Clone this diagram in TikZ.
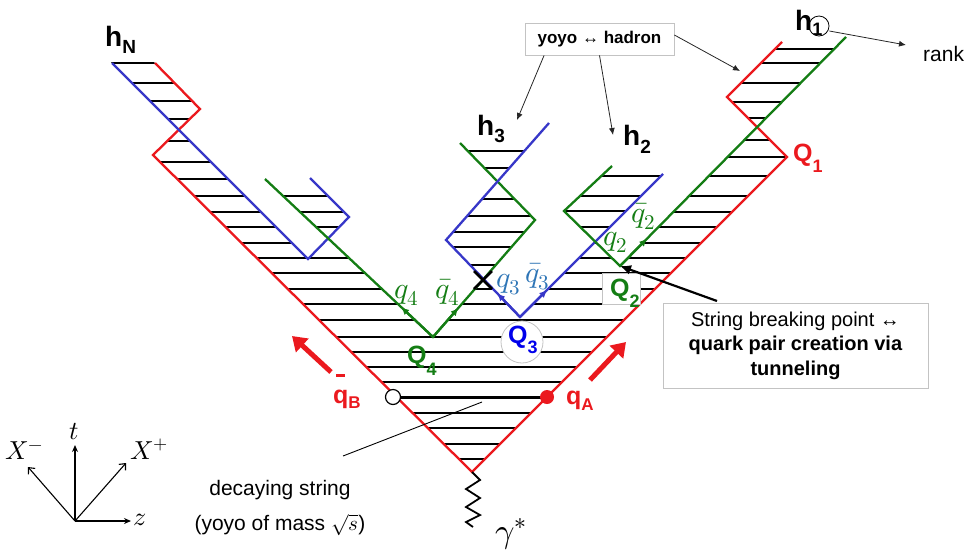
\documentclass[tikz,border=0pt]{standalone}
\usepackage{fontspec}
\usepackage{unicode-math}
\setmainfont{Liberation Sans}
\setmathfont{Latin Modern Math}
\usetikzlibrary{arrows.meta,calc}

\definecolor{sred}{RGB}{235,25,30}
\definecolor{sgreen}{RGB}{20,125,20}
\definecolor{sblue}{RGB}{55,55,200}
\definecolor{qblue}{RGB}{0,0,235}
\definecolor{lblue}{RGB}{46,117,182}
\definecolor{boxgray}{RGB}{195,195,195}

\newcommand\fsz[1]{\fontsize{#1}{#1}\selectfont}
\newcommand\barq{\ooalign{q\cr\hidewidth\rule[1.04em]{0.36em}{0.13em}\hidewidth\cr}}
\newcommand\hatchrows[1]{\foreach \hy in {#1} {\draw[hatch] (0,\hy) -- (971,\hy);}}

\begin{document}
\begin{tikzpicture}[x=1pt,y=-1pt,
  wl/.style={line width=2.3pt,line join=miter},
  hatch/.style={line width=1.4pt,black},
  lbl/.style={anchor=base west,inner sep=0pt},
  tinyarrow/.style={-{Latex[length=8pt,width=7pt]}},
  note/.style={line width=0.8pt,black!85,-{Latex[length=7pt,width=6pt]}},
  axis/.style={line width=1.1pt}]
\useasboundingbox (0,0) rectangle (971,550);

% ---- vertices of the world lines ----
\coordinate (A0)  at (472,472);
\coordinate (LR1) at (153,155);
\coordinate (LR2) at (200,109);
\coordinate (LR3) at (155,63);
\coordinate (Q1v) at (787,157);
\coordinate (R2)  at (727,97);
\coordinate (R3)  at (782,42);
\coordinate (BN0) at (112,63);
\coordinate (BN1) at (308,259);
\coordinate (BN2) at (349,217);
\coordinate (BN3) at (310,178);
\coordinate (G4a) at (265,179);
\coordinate (Q4)  at (433,337);
\coordinate (X)   at (483,280);
\coordinate (G4b) at (535,220);
\coordinate (G4c) at (460,143);
\coordinate (Q3)  at (520,317);
\coordinate (B3a) at (446,240);
\coordinate (B3t) at (549,123);
\coordinate (B2t) at (663,174);
\coordinate (Q2)  at (620,266);
\coordinate (G2a) at (564,211);
\coordinate (G2t) at (612,166);
\coordinate (G1t) at (846,37);
% crossings
\coordinate (C)    at (178.8,129.8);
\coordinate (X1)   at (757.1,127.1);
\coordinate (X2)   at (595.3,241.7);
\coordinate (X3)   at (497.3,181.5);
\coordinate (XN)   at (328,238);
\coordinate (G256) at (346.9,256);
\coordinate (BN1p) at (305,256);

% ---- string areas (horizontal hatching) ----
\begin{scope}
  \clip (110,61) -- (153,61) -- (LR2) -- (C) -- cycle;
  \hatchrows{63,83,101,119}
\end{scope}
\begin{scope}
  \clip (G4a) -- (BN3) -- (BN2) -- (XN) -- cycle;
  \hatchrows{196,212,227}
\end{scope}
\begin{scope}
  \clip (X3) -- (G4c) -- (B3t) -- cycle;
  \hatchrows{151,168}
\end{scope}
\begin{scope}
  \clip (X) -- (B3a) -- (X3) -- (G4b) -- cycle;
  \hatchrows{199,216,232,247,265}
\end{scope}
\begin{scope}
  \clip (X2) -- (G2a) -- (G2t) -- (B2t) -- cycle;
  \hatchrows{176,196,211,227}
\end{scope}
\begin{scope}
  \clip (X1) -- (R2) -- (R3) -- (G1t) -- cycle;
  \hatchrows{49,63,83,102,118}
\end{scope}
\begin{scope}
  \clip (C) -- (LR1) -- (A0) -- (Q1v) -- (X1) -- (Q2) -- (X2) -- (Q3) -- (X)
        -- (Q4) -- (G256) -- (BN1p) -- cycle;
  \clip (0,0) rectangle (472,550);
  \hatchrows{141,162,179,196,212,227,243,258,273,289,304,320,337,352,367,382,413,428,444,459}
\end{scope}
\begin{scope}
  \clip (C) -- (LR1) -- (A0) -- (Q1v) -- (X1) -- (Q2) -- (X2) -- (Q3) -- (X)
        -- (Q4) -- (G256) -- (BN1p) -- cycle;
  \clip (472,0) rectangle (971,550);
  \hatchrows{140,157,176,196,212,227,243,258,273,289,304,320,337,352,367,382,413,428,444,459}
\end{scope}

% ---- quark world lines ----
\draw[wl,sred]   (LR3) -- (LR2) -- (LR1) -- (A0) -- (Q1v) -- (R2) -- (R3);
\draw[wl,sblue]  (BN0) -- (BN1) -- (BN2) -- (BN3);
\draw[wl,sgreen] (G4a) -- (Q4) -- (G4b) -- (G4c);
\draw[wl,sblue]  (B3t) -- (B3a) -- (Q3) -- (B2t);
\draw[wl,sgreen] (G2t) -- (G2a) -- (Q2) -- (G1t);

% direction marks on the new quark lines
\draw[wl,sgreen,tinyarrow] (Q4) -- ($(Q4)!0.19!(G4a)$);
\draw[wl,sgreen,tinyarrow] (Q4) -- ($(Q4)!0.25!(G4b)$);
\draw[wl,sblue,tinyarrow]  (Q3) -- ($(Q3)!0.31!(B3a)$);
\draw[wl,sblue,tinyarrow]  (Q3) -- ($(Q3)!0.19!(B2t)$);
\draw[wl,sgreen,tinyarrow] (Q2) -- ($(Q2)!0.12!(G1t)$);

% crossing of q3 and qbar4
\draw[line width=2.6pt] ($(X)+(-9,-9)$) -- ($(X)+(9,9)$);
\draw[line width=2.6pt] ($(X)+(-9,9)$) -- ($(X)+(9,-9)$);

% the initial string between the endpoint quarks
\coordinate (qBpt) at (393,397);
\coordinate (qApt) at (547,397);
\draw[line width=3pt] (qBpt) -- (qApt);
\node[circle,draw=black,line width=1.2pt,fill=white,minimum size=15pt,inner sep=0pt] (qBdot) at (qBpt) {};
\node[circle,fill=sred,minimum size=14pt,inner sep=0pt] (qAdot) at (qApt) {};

% endpoint quark motion
\coordinate (qBtail) at (331,372);
\coordinate (qBtip)  at (292,336);
\coordinate (qAtail) at (590,380);
\coordinate (qAtip)  at (626,342);
\draw[sred,line width=5pt,-{Triangle[length=14pt,width=18pt]}] (qBtail) -- (qBtip);
\draw[sred,line width=5pt,-{Triangle[length=14pt,width=18pt]}] (qAtail) -- (qAtip);

% photon
\coordinate (gEnd) at (473,527);
\draw[line width=1.8pt,line join=miter] (A0) -- (480,480) -- (466,489) -- (480,498) -- (466,507) -- (480,515) -- (466,522) -- (gEnd);
\node[anchor=base west,inner sep=0pt] (lgam) at (495,542) {\fsz{34}$\gamma^{*}$};

% ---- breaking point markers ----
\node[draw=boxgray,fill=white,line width=0.8pt,minimum width=38pt,minimum height=31pt,inner sep=0pt] (Q2box) at (621,288.5) {};
\node[circle,draw=boxgray,fill=white,line width=0.8pt,minimum size=42pt,inner sep=0pt] (Q3c) at (522,342) {};

\node[lbl,text=sred]   (lQ1) at (793,161) {\fsz{25}\bfseries Q\raisebox{-11pt}{\fsz{18}1}};
\node[lbl,text=sgreen] (lQ2) at (610,296) {\fsz{25}\bfseries Q\raisebox{-11pt}{\fsz{18}2}};
\node[lbl,text=qblue]  (lQ3) at (508,343) {\fsz{25}\bfseries Q\raisebox{-10pt}{\fsz{18}3}};
\node[lbl,text=sgreen] (lQ4) at (407,363) {\fsz{25}\bfseries Q\raisebox{-12pt}{\fsz{18}4}};

\node[lbl,text=sred] (lqB) at (333,403) {\fsz{25}\bfseries\barq\raisebox{-5pt}{\fsz{17}B}};
\node[lbl,text=sred] (lqA) at (566,404) {\fsz{25}\bfseries q\raisebox{-6pt}{\fsz{17}A}};

% quark labels
\node[lbl,text=sgreen] (lq4)  at (394,298) {\fsz{30}$q_4$};
\node[lbl,text=sgreen] (lqb4) at (435,298) {\fsz{30}$\bar{q}_4$};
\node[lbl,text=lblue]  (lq3)  at (496,287) {\fsz{30}$q_3$};
\node[lbl,text=lblue]  (lqb3) at (525,282) {\fsz{30}$\bar{q}_3$};
\node[lbl,text=sgreen] (lq2)  at (603,245) {\fsz{30}$q_2$};
\node[lbl,text=sgreen] (lqb2) at (631,222) {\fsz{30}$\bar{q}_2$};

% hadron labels
\node[lbl] (lhN) at (105,46)  {\fsz{28}\bfseries h\raisebox{-7pt}{\fsz{19}N}};
\node[lbl] (lh3) at (477,135) {\fsz{28}\bfseries h\raisebox{-7pt}{\fsz{19}3}};
\node[lbl] (lh2) at (623,145) {\fsz{28}\bfseries h\raisebox{-8pt}{\fsz{19}2}};
\node[lbl] (lh1) at (795,30)  {\fsz{28}\bfseries h\raisebox{-5pt}{\fsz{18}1}};
\node[circle,draw=black,line width=0.8pt,minimum size=20pt,inner sep=0pt] (rk) at (819,26) {};
\node[lbl] (lrank) at (923,61) {\fsz{21}rank};
\coordinate (rkTip) at (906,45);
\draw[note] (rk.east) ++(0,5) -- (rkTip);

% yoyo / hadron note
\node[draw=boxgray,fill=white,line width=0.8pt,minimum width=149pt,minimum height=32pt,inner sep=0pt] (yoyo) at (599.5,39) {\fsz{17}\bfseries yoyo ↔ hadron};
\coordinate (toH3) at (517,120);
\coordinate (toH2) at (613,135);
\coordinate (toH1) at (740,71);
\draw[note] ($(yoyo.south west)!0.13!(yoyo.south east)$) -- (toH3);
\draw[note] ($(yoyo.south west)!0.5!(yoyo.south east)$) -- (toH2);
\draw[note] ($(yoyo.east)+(0,-4)$) -- (toH1);

% string breaking note
\node[draw=boxgray,fill=white,line width=0.8pt,minimum width=265pt,minimum height=85pt,inner sep=0pt,align=center,font=\fontsize{20}{24.5}\selectfont] (brk) at (795.5,345.5)
  {String breaking point ↔\\ \textbf{quark pair creation via}\\ \textbf{tunneling}};
\coordinate (brkStart) at (717,301);
\draw[line width=2.2pt,-{Latex[length=11pt,width=10pt]}] (brkStart) -- (Q2);

% decaying string note
\coordinate (dsA) at (343,456);
\coordinate (dsB) at (482,402);
\draw[line width=0.9pt] (dsA) -- (dsB);
\node[align=center,font=\fontsize{21}{35}\selectfont] (ds) at (280,508)
  {decaying string\\(yoyo of mass $\sqrt{s}$)};

% ---- light-cone axes ----
\coordinate (O) at (75,521);
\coordinate (tEnd) at (75,445);
\coordinate (zEnd) at (131,521);
\coordinate (xpEnd) at (126,463);
\coordinate (xmEnd) at (28,467);
\draw[axis,-{Stealth[length=7pt,width=6pt]}] (O) -- (tEnd);
\draw[axis,-{Stealth[length=7pt,width=6pt]}] (O) -- (zEnd);
\draw[axis,-{Straight Barb[length=5pt,width=9pt]}] (O) -- (xpEnd);
\draw[axis,-{Straight Barb[length=5pt,width=9pt]}] (O) -- (xmEnd);
\node (lt)  at (74,431)  {\fsz{26}$t$};
\node (lz)  at (140,520) {\fsz{26}$z$};
\node (lxp) at (149,449) {\fsz{26}$X^{+}$};
\node (lxm) at (24,451)  {\fsz{26}$X^{-}$};
\end{tikzpicture}
\end{document}
